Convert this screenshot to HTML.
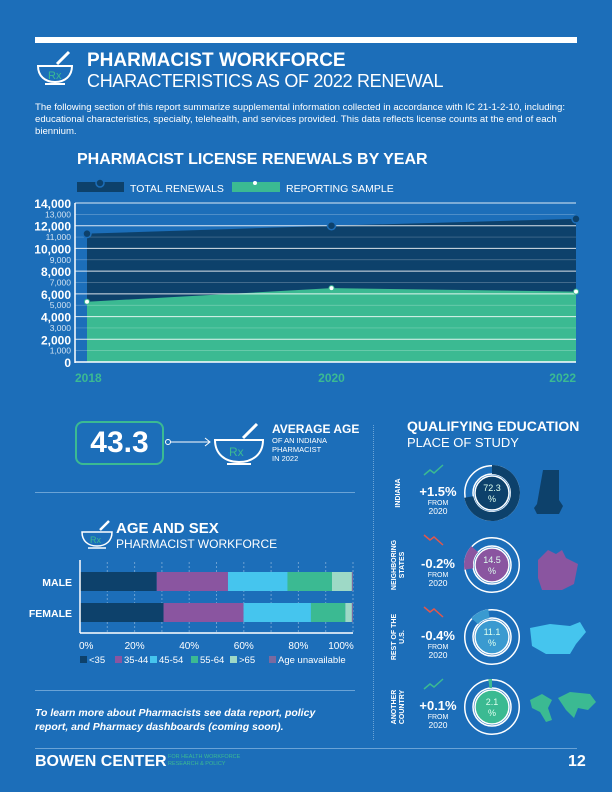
<!DOCTYPE html>
<html><head><meta charset="utf-8"><style>
body{margin:0;width:612px;height:792px;background:#1c6eb9;position:relative;overflow:hidden;font-family:"Liberation Sans",sans-serif;color:#fff}
.a{position:absolute;white-space:nowrap}
.b{font-weight:bold}
</style></head><body>
<div class="a" style="left:35px;top:37px;width:542px;height:6px;background:#fff"></div>
<svg class="a" style="left:35px;top:48px" width="44" height="40"><path d="M3 18h34c0 10-7 16-17 16S3 28 3 18z" fill="none" stroke="#fff" stroke-width="2"/><path d="M10 36h20" stroke="#fff" stroke-width="2"/><path d="M22 16l12-12" stroke="#fff" stroke-width="3"/><text x="13" y="31" font-size="11" fill="#3bba92" font-family="Liberation Sans">Rx</text></svg>
<div class="a b" style="left:87px;top:50px;font-size:19px">PHARMACIST WORKFORCE</div>
<div class="a" style="left:87px;top:71px;font-size:18px;letter-spacing:-0.3px">CHARACTERISTICS AS OF 2022 RENEWAL</div>
<div class="a" style="left:35px;top:102px;width:545px;white-space:normal;font-size:9.6px;line-height:12px">The following section of this report summarize supplemental information collected in accordance with IC 21-1-2-10, including: educational characteristics, specialty, telehealth, and services provided. This data reflects license counts at the end of each biennium.</div>
<div class="a b" style="left:77px;top:151px;font-size:16px">PHARMACIST LICENSE RENEWALS BY YEAR</div>
<svg class="a" id="ch" style="left:0;top:170px" width="612" height="220"></svg>

<div class="a b" style="left:75px;top:421px;width:85px;height:40px;border:2px solid #3bba92;border-radius:8px;font-size:30px;text-align:center;line-height:40px">43.3</div>
<svg class="a" style="left:163px;top:420px" width="110" height="50"><circle cx="5" cy="22" r="2.5" fill="none" stroke="#fff"/><path d="M8 22h38" stroke="#fff"/><path d="M42 18l5 4-5 4" fill="none" stroke="#fff"/><path d="M52 20h48c0 14-10 22-24 22S52 34 52 20z" fill="none" stroke="#fff" stroke-width="2"/><path d="M64 44h24" stroke="#fff" stroke-width="2"/><path d="M80 18l14-14" stroke="#fff" stroke-width="3"/><text x="66" y="36" font-size="12" fill="#3bba92">Rx</text></svg>
<div class="a b" style="left:272px;top:422px;font-size:12px">AVERAGE AGE</div>
<div class="a" style="left:272px;top:436px;font-size:7.5px;line-height:9px;white-space:normal;width:70px">OF AN INDIANA PHARMACIST<br>IN 2022</div>
<div class="a" style="left:35px;top:492px;width:320px;height:1px;background:#6aa3d6"></div>
<div class="a" style="left:373px;top:425px;width:0;height:315px;border-left:1px dotted #6aa3d6"></div>

<svg class="a" style="left:80px;top:518px" width="36" height="32"><path d="M2 14h30c0 9-6 14-15 14S2 23 2 14z" fill="none" stroke="#fff" stroke-width="1.5"/><path d="M8 30h18" stroke="#fff" stroke-width="1.5"/><path d="M20 12l9-9" stroke="#fff" stroke-width="2.5"/><text x="10" y="25" font-size="9" fill="#3bba92">Rx</text></svg>
<div class="a b" style="left:116px;top:520px;font-size:15px">AGE AND SEX</div>
<div class="a" style="left:116px;top:537px;font-size:12px">PHARMACIST WORKFORCE</div>
<svg class="a" id="ag" style="left:0;top:555px" width="370" height="120"></svg>
<div class="a" style="left:35px;top:690px;width:320px;height:1px;background:#6aa3d6"></div>
<div class="a b" style="left:35px;top:706px;font-size:10.5px;font-style:italic;line-height:14px">To learn more about Pharmacists see data report, policy<br>report, and Pharmacy dashboards (coming soon).</div>

<div class="a b" style="left:407px;top:418px;font-size:14px">QUALIFYING EDUCATION</div>
<div class="a" style="left:407px;top:435px;font-size:13px">PLACE OF STUDY</div>
<svg class="a" id="ed" style="left:380px;top:460px" width="232" height="290"></svg>

<div class="a" style="left:35px;top:748px;width:542px;height:1px;background:#6aa3d6"></div>
<div class="a b" style="left:35px;top:753px;font-size:16px">BOWEN CENTER</div>
<div class="a" style="left:168px;top:754px;font-size:5.5px;line-height:7px;color:#3bba92">FOR HEALTH WORKFORCE<br>RESEARCH &amp; POLICY</div>
<div class="a b" style="left:568px;top:753px;font-size:16px">12</div>

<script>
const years=["2018","2020","2022"];
const totalRenewals=[11300,12000,12600];
const reportingSample=[5300,6500,6200];
const yTicks=[0,1000,2000,3000,4000,5000,6000,7000,8000,9000,10000,11000,12000,13000,14000];
const NS="http://www.w3.org/2000/svg";
function mk(p,t,a){const e=document.createElementNS(NS,t);for(const k in a)e.setAttribute(k,a[k]);p.appendChild(e);return e;}
const ch=document.getElementById('ch');
const x0=87,x1=576,yb=192,yt=33;
const xs=i=>x0+(x1-x0)*i/(years.length-1);
const ys=v=>yb-(yb-yt)*v/14000;
let l1=mk(ch,'rect',{x:77,y:12,width:47,height:10,fill:'#0d416b'});
mk(ch,'circle',{cx:100,cy:13,r:4,fill:'#0d416b',stroke:'#1c6eb9','stroke-width':1.5});
let lt=mk(ch,'text',{x:130,y:22,'font-size':10.5,fill:'#fff'});lt.textContent='TOTAL RENEWALS';
let l2=mk(ch,'rect',{x:232,y:12,width:48,height:10,fill:'#3bba92'});
mk(ch,'circle',{cx:255,cy:13,r:2,fill:'#fff'});
let ls=mk(ch,'text',{x:286,y:22,'font-size':10.5,fill:'#fff'});ls.textContent='REPORTING SAMPLE';
let pt=`M${x0},${yb}`;totalRenewals.forEach((v,i)=>pt+=`L${xs(i)},${ys(v)}`);pt+=`L${x1},${yb}Z`;
let a1=mk(ch,'path',{d:pt,fill:'#0d416b'});
let ps=`M${x0},${yb}`;reportingSample.forEach((v,i)=>ps+=`L${xs(i)},${ys(v)}`);ps+=`L${x1},${yb}Z`;
let a2=mk(ch,'path',{d:ps,fill:'#3bba92'});
yTicks.forEach(v=>{const major=v%2000===0;
 mk(ch,'line',{x1:75,x2:x1,y1:ys(v),y2:ys(v),stroke:'#fff','stroke-opacity':major?0.85:0.3,'stroke-width':major?1:0.7});
 const t=mk(ch,'text',{x:71,y:ys(v)+(major?5:3),'text-anchor':'end','font-size':major?12:8.5,'font-weight':major?'bold':'normal',fill:'#fff','fill-opacity':major?1:0.8});
 t.textContent=v.toLocaleString('en-US');});
mk(ch,'line',{x1:75,x2:75,y1:yt,y2:yb+1,stroke:'#fff','stroke-width':1.5});
mk(ch,'line',{x1:75,x2:x1,y1:yb,y2:yb,stroke:'#fff','stroke-width':1.5});
years.forEach((y,i)=>{
 let c=mk(ch,'circle',{cx:xs(i),cy:ys(totalRenewals[i]),r:4,fill:'#0d416b',stroke:'#1c6eb9','stroke-width':1.5});
 let d=mk(ch,'circle',{cx:xs(i),cy:ys(reportingSample[i]),r:2.5,fill:'#fff',stroke:'#3bba92'});
 let t=mk(ch,'text',{x:i==0?75:i==2?x1:xs(i),y:212,'text-anchor':i==0?'start':i==2?'end':'middle','font-size':12,'font-weight':'bold',fill:'#3bba92'});t.textContent=y;});

const sexes=["MALE","FEMALE"];
const ageGroups=["<35","35-44","45-54","55-64",">65","Age unavailable"];
const malePct=[28.1,26.1,21.8,16.3,7.3,0.4];
const femalePct=[30.6,29.3,24.7,12.6,2.4,0.4];
const pctTicks=[0,20,40,60,80,100];
const ageColors=['#0d416b','#8a55a0','#45c5ee','#3bba92','#9ed9c6','#7a6aa0'];
const ag=document.getElementById('ag');
const bx0=80,bx1=353,bxs=p=>bx0+(bx1-bx0)*p/100;
[10,20,30,40,50,60,70,80,90,100].forEach(p=>mk(ag,'line',{x1:bxs(p),x2:bxs(p),y1:7,y2:77,stroke:'#fff','stroke-opacity':0.35,'stroke-dasharray':'2,2'}));
[malePct,femalePct].forEach((arr,r)=>{let acc=0;const y=r?48:17;
 const lb=mk(ag,'text',{x:72,y:y+14,'text-anchor':'end','font-size':10.5,'font-weight':'bold',fill:'#fff'});lb.textContent=sexes[r];
 arr.forEach((v,i)=>{const rc=mk(ag,'rect',{x:bxs(acc),y:y,width:bxs(acc+v)-bxs(acc),height:19,fill:ageColors[i]});acc+=v;});});
mk(ag,'line',{x1:bx0,x2:bx0,y1:5,y2:78,stroke:'#fff','stroke-width':1.5});
mk(ag,'line',{x1:bx0,x2:bx1,y1:78,y2:78,stroke:'#fff','stroke-width':1.5});
pctTicks.forEach(p=>{const t=mk(ag,'text',{x:bxs(p)+(p==0?-1:p==100?-12:0),y:94,'text-anchor':p==0?'start':'middle','font-size':10,fill:'#fff'});t.textContent=p+'%';});
const legX=[80,115,150,191,230,269];
ageGroups.forEach((g,i)=>{mk(ag,'rect',{x:legX[i],y:101,width:7,height:7,fill:ageColors[i]});const t=mk(ag,'text',{x:legX[i]+9,y:108,'font-size':9.5,fill:'#fff'});t.textContent=g;});

const places=[["INDIANA"],["NEIGHBORING","STATES"],["REST OF THE","U.S."],["ANOTHER","COUNTRY"]];
const placeShare=[72.3,14.5,11.1,2.1];
const changes=["+1.5%","-0.2%","-0.4%","+0.1%"];
const donutColors=['#0d416b','#8a55a0','#3a9ad0','#3bba92'];
const ed=document.getElementById('ed');
const cy0=[33,105,177,247];
let cum=0;
function pt2(cx,cy,R,f){const a=f*2*Math.PI;return [cx+R*Math.sin(a),cy-R*Math.cos(a)];}
placeShare.forEach((s,i)=>{const cx=112,cy=cy0[i],R=28,r=17,ri=19;
 const g=mk(ed,'g',{});
 mk(g,'circle',{cx,cy,r:R-0.75,fill:'none',stroke:'#fff','stroke-width':1.5});
 mk(g,'circle',{cx,cy,r:ri,fill:'none',stroke:'#fff','stroke-width':1.5});
 const f0=cum/100,f1=(cum+s)/100,la=s>50?1:0;
 const [ax,ay]=pt2(cx,cy,R,f0),[bx,by]=pt2(cx,cy,R,f1),[cx2,cy2]=pt2(cx,cy,ri,f1),[dx,dy]=pt2(cx,cy,ri,f0);
 mk(g,'path',{d:`M${ax},${ay}A${R},${R} 0 ${la} 1 ${bx},${by}L${cx2},${cy2}A${ri},${ri} 0 ${la} 0 ${dx},${dy}Z`,fill:donutColors[i]});
 cum+=s;
 mk(g,'circle',{cx,cy,r,fill:donutColors[i],stroke:'#fff','stroke-width':1.5});
 const t1=mk(g,'text',{x:cx,y:cy-2,'text-anchor':'middle','font-size':9,fill:'#dfe'});t1.textContent=s.toFixed(1);
 const t2=mk(g,'text',{x:cx,y:cy+9,'text-anchor':'middle','font-size':9,fill:'#dfe'});t2.textContent='%';
 const lab=mk(ed,'text',{transform:`translate(${places[i].length>1?16:20},${cy}) rotate(-90)`,'text-anchor':'middle','font-size':7,'font-weight':'bold',fill:'#fff'});
 places[i].forEach((p,j)=>{const ts=mk(lab,'tspan',{x:0,dy:j?8:0});ts.textContent=p;});
 const up=changes[i][0]=='+';
 mk(ed,'path',{d:up?`M44 ${cy-18}l6-5 4 3 9-8`:`M44 ${cy-30}l6 5 4-3 9 8`,fill:'none',stroke:up?'#3bba92':'#e2574c','stroke-width':1.5});
 const c=mk(ed,'text',{x:58,y:cy+3,'text-anchor':'middle','font-size':13,'font-weight':'bold',fill:'#fff'});c.textContent=changes[i];
 const f=mk(ed,'text',{x:58,y:cy+12,'text-anchor':'middle','font-size':7,fill:'#fff'});f.textContent='FROM';
 const f2=mk(ed,'text',{x:58,y:cy+21,'text-anchor':'middle','font-size':8.5,fill:'#fff'});f2.textContent='2020';});
mk(ed,'path',{d:'M163 10h16v30l4 6-4 8h-22l-3-6 3-4z',fill:'#0d416b'});
mk(ed,'path',{d:'M158 100l10-10 8 4 6-4 4 8 12 6-4 20-12 6h-20l-4-12z',fill:'#8a55a0'});
mk(ed,'path',{d:'M150 168l20-4 20 2 10-4 6 10-10 12-6 10h-24l-14-8z',fill:'#45c5ee'});
mk(ed,'path',{d:'M150 240l12-6 10 6-4 8 4 12-6 2-6-10-8-4zM178 238l12-6 20 2 6 8-8 8-10-2-4 10-8-8z',fill:'#3bba92'});
</script>
</body></html>
